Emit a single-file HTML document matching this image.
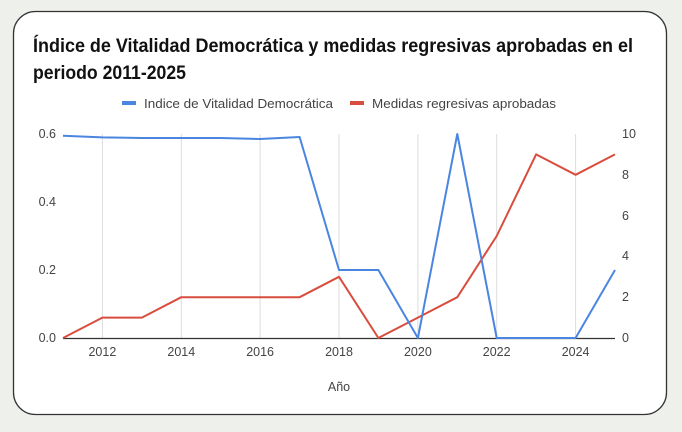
<!DOCTYPE html>
<html><head><meta charset="utf-8"><style>
html,body{margin:0;padding:0;background:#eef0eb;}
svg{display:block;font-family:"Liberation Sans",Arial,sans-serif;}
</style></head><body>
<svg width="682" height="432" viewBox="0 0 682 432" xmlns="http://www.w3.org/2000/svg">
<rect x="0" y="0" width="682" height="432" fill="#eef0eb"/>
<rect x="13.5" y="11.5" width="653" height="403" rx="22" fill="#fff" stroke="#333" stroke-width="1.3"/>
<text x="33" y="52" font-size="19" font-weight="bold" fill="#111" textLength="600" lengthAdjust="spacingAndGlyphs">Índice de Vitalidad Democrática y medidas regresivas aprobadas en el</text>
<text x="33" y="79" font-size="19" font-weight="bold" fill="#111" textLength="153" lengthAdjust="spacingAndGlyphs">periodo 2011-2025</text>
<rect x="122" y="101" width="14" height="4" fill="#4a86e0"/>
<text x="144" y="108" font-size="13" fill="#444" textLength="189" lengthAdjust="spacingAndGlyphs">Indice de Vitalidad Democrática</text>
<rect x="350" y="101" width="14" height="4" fill="#d94d3e"/>
<text x="372" y="108" font-size="13" fill="#444" textLength="184" lengthAdjust="spacingAndGlyphs">Medidas regresivas aprobadas</text>
<g stroke="#dcdcdc" stroke-width="1">
<line x1="102.4" y1="134" x2="102.4" y2="338"/><line x1="181.3" y1="134" x2="181.3" y2="338"/>
<line x1="260.1" y1="134" x2="260.1" y2="338"/><line x1="339" y1="134" x2="339" y2="338"/>
<line x1="417.9" y1="134" x2="417.9" y2="338"/><line x1="496.7" y1="134" x2="496.7" y2="338"/>
<line x1="575.6" y1="134" x2="575.6" y2="338"/>
</g>
<line x1="63" y1="338.5" x2="615" y2="338.5" stroke="#333" stroke-width="1.2"/>
<g font-size="12.5" fill="#444">
<text x="56" y="138" text-anchor="end">0.6</text>
<text x="56" y="206" text-anchor="end">0.4</text>
<text x="56" y="274" text-anchor="end">0.2</text>
<text x="56" y="342" text-anchor="end">0.0</text>
<text x="622" y="138">10</text>
<text x="622" y="179">8</text>
<text x="622" y="220">6</text>
<text x="622" y="260">4</text>
<text x="622" y="301">2</text>
<text x="622" y="342">0</text>
<g text-anchor="middle">
<text x="102.4" y="356">2012</text><text x="181.3" y="356">2014</text><text x="260.1" y="356">2016</text>
<text x="339" y="356">2018</text><text x="417.9" y="356">2020</text><text x="496.7" y="356">2022</text>
<text x="575.6" y="356">2024</text>
<text x="339" y="391">Año</text>
</g>
</g>
<polyline fill="none" stroke="#d94d3e" stroke-width="2" stroke-linejoin="round" points="63,338 102.4,317.6 141.9,317.6 181.3,297.2 220.7,297.2 260.1,297.2 299.6,297.2 339,276.8 378.4,338 417.9,317.6 457.3,297.2 496.7,236 536.1,154.4 575.6,174.8 615,154.4"/>
<polyline fill="none" stroke="#4a86e0" stroke-width="2" stroke-linejoin="round" points="63,135.7 102.4,137.4 141.9,138 181.3,138 220.7,138 260.1,139 299.6,137 339,270 378.4,270 417.9,338 457.3,134 496.7,338 536.1,338 575.6,338 615,270"/>
</svg>
</body></html>
